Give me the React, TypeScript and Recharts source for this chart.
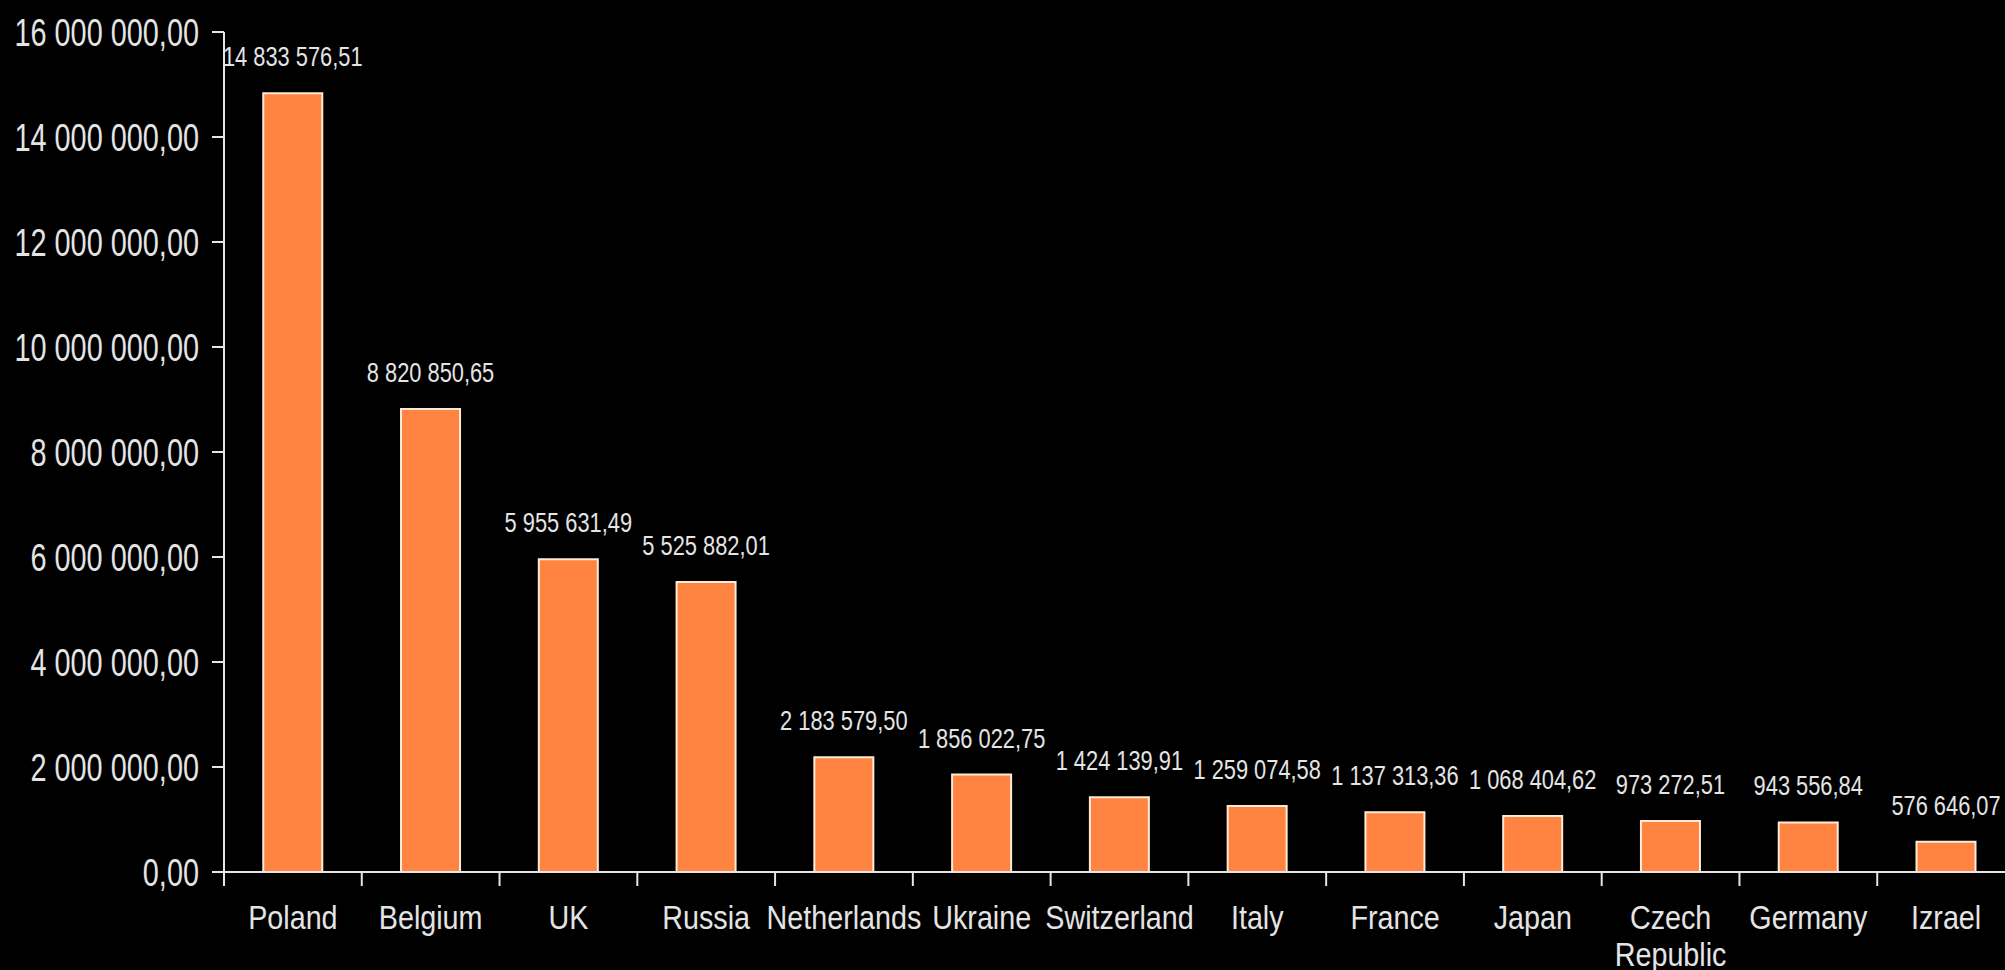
import React from "react";
import { BarChart, Bar, XAxis, YAxis, LabelList } from "recharts";

const countries = [
  "Poland",
  "Belgium",
  "UK",
  "Russia",
  "Netherlands",
  "Ukraine",
  "Switzerland",
  "Italy",
  "France",
  "Japan",
  "Czech Republic",
  "Germany",
  "Izrael",
];

const amounts = [
  14833576.51, 8820850.65, 5955631.49, 5525882.01, 2183579.5, 1856022.75,
  1424139.91, 1259074.58, 1137313.36, 1068404.62, 973272.51, 943556.84,
  576646.07,
];

const yTicks = [0, 2000000, 4000000, 6000000, 8000000, 10000000, 12000000, 14000000, 16000000];

const data = countries.map((name, i) => ({ name, value: amounts[i] }));

const FONT = "'Liberation Sans', Arial, sans-serif";
const TEXT = "#E4E4E4";
const AXIS = "#E6E6E6";

function fmt(v: number): string {
  const [intPart, dec] = v.toFixed(2).split(".");
  const grouped = intPart.replace(/\B(?=(\d{3})+(?!\d))/g, " ");
  return grouped + "," + dec;
}

const Squeezed = ({ x, y, sx, size, anchor, children }: any) => (
  <text
    transform={`translate(${x},${y}) scale(${sx},1)`}
    x={0}
    y={0}
    textAnchor={anchor}
    fill={TEXT}
    fontSize={size}
    fontFamily={FONT}
  >
    {children}
  </text>
);

const TICK_MARGIN = 57;

const CategoryTick = (props: any) => {
  const { x, y, payload } = props;
  const half = payload && payload.offset ? payload.offset : 0;
  const axisY = y - TICK_MARGIN;
  const multi = payload.value === "Czech Republic";
  const lines = multi ? String(payload.value).split(" ") : [String(payload.value)];
  return (
    <g>
      <line x1={x - half} x2={x - half} y1={axisY} y2={axisY + 14} stroke={AXIS} strokeWidth={2} />
      {payload.index === countries.length - 1 ? (
        <line x1={x + half} x2={x + half} y1={axisY} y2={axisY + 14} stroke={AXIS} strokeWidth={2} />
      ) : null}
      {lines.map((l, i) => (
        <Squeezed key={i} x={x} y={y + i * 37} sx={0.87} size={33} anchor="middle">
          {l}
        </Squeezed>
      ))}
    </g>
  );
};

const ValueTick = (props: any) => {
  const { x, y, payload } = props;
  return (
    <Squeezed x={x} y={y + 13.5} sx={0.76} size={38} anchor="end">
      {fmt(payload.value)}
    </Squeezed>
  );
};

const ValueLabel = (props: any) => {
  const { x, y, width, value } = props;
  return (
    <Squeezed x={x + width / 2} y={y - 27} sx={0.78} size={28} anchor="middle">
      {fmt(value)}
    </Squeezed>
  );
};

export default function App() {
  return (
    <div style={{ width: 2005, height: 970, overflow: "hidden", background: "#000", position: "relative" }}>
      <style>{"html,body{margin:0;padding:0;background:#000;overflow:hidden}"}</style>
      <BarChart
        width={2030}
        height={970}
        data={data}
        margin={{ top: 32, right: 15, left: 10, bottom: 8 }}
        barCategoryGap="28.5%"
      >
        <XAxis
          dataKey="name"
          axisLine={{ stroke: AXIS, strokeWidth: 2 }}
          tickLine={false}
          tickSize={0}
          tickMargin={TICK_MARGIN}
          interval={0}
          height={90}
          tick={<CategoryTick />}
        />
        <YAxis
          width={214}
          domain={[0, 16000000]}
          ticks={yTicks}
          interval={0}
          axisLine={{ stroke: AXIS, strokeWidth: 2 }}
          tickLine={{ stroke: AXIS, strokeWidth: 2 }}
          tickSize={12}
          tickMargin={13}
          tick={<ValueTick />}
        />
        <Bar
          dataKey="value"
          fill="#FF8442"
          stroke="#FFEBD8"
          strokeWidth={2}
          isAnimationActive={false}
        >
          <LabelList dataKey="value" content={<ValueLabel />} />
        </Bar>
      </BarChart>
    </div>
  );
}
